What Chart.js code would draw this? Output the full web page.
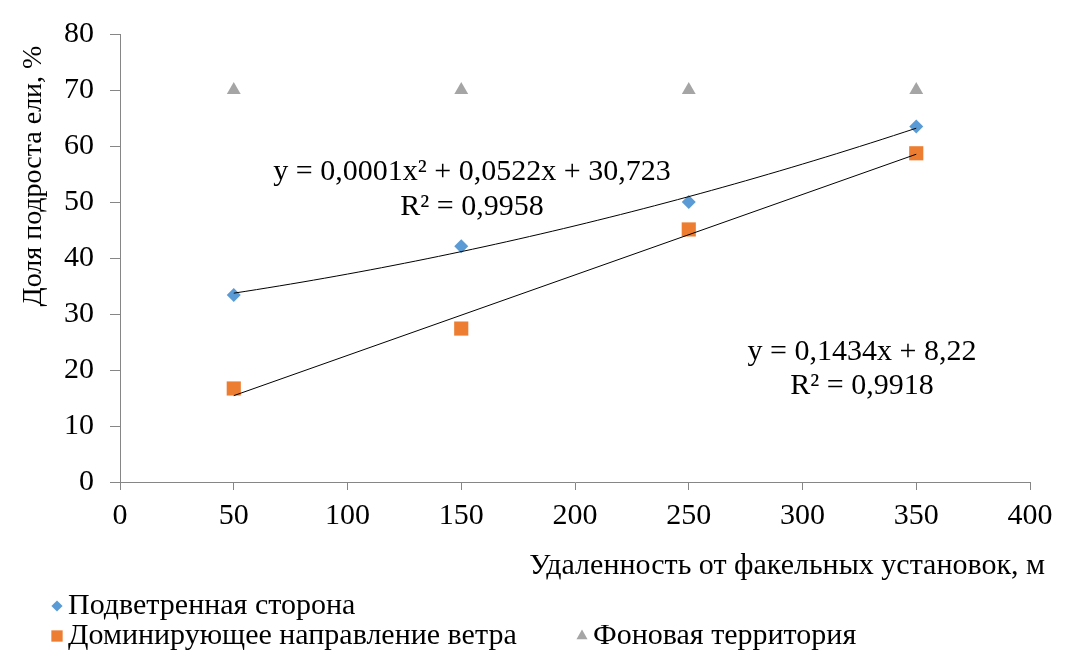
<!DOCTYPE html>
<html>
<head>
<meta charset="utf-8">
<script src="https://cdn.jsdelivr.net/npm/chart.js@4"></script>
<style>
  html, body { margin: 0; padding: 0; background: #fff; }
  #wrap { width: 1068px; height: 665px; position: relative; }
</style>
</head>
<body>
<div id="wrap"><canvas id="chart" width="1068" height="665"></canvas></div>
<script>
// distances, m
const distances = [50, 150, 250, 350];
// share of spruce undergrowth, %
const leeward = [33.4, 42.1, 50.0, 63.5];
const dominantWind = [16.7, 27.4, 45.1, 58.7];
const background = [70, 70, 70, 70];

const seriesNames = ['Подветренная сторона', 'Доминирующее направление ветра', 'Фоновая территория'];
const eqPoly = ['y = 0,0001x² + 0,0522x + 30,723', 'R² = 0,9958'];
const eqLin = ['y = 0,1434x + 8,22', 'R² = 0,9918'];
const xTitle = 'Удаленность от факельных установок, м';
const yTitle = 'Доля подроста ели, %';

const FONT = "'Liberation Serif', 'Times New Roman', serif";
const AXIS_COLOR = '#868686';

// least squares fits, same as the spreadsheet trendlines
function fitLinear(xs, ys) {
    const n = xs.length;
    const mx = xs.reduce((a, b) => a + b, 0) / n;
    const my = ys.reduce((a, b) => a + b, 0) / n;
    let sxy = 0, sxx = 0;
    xs.forEach((x, i) => { sxy += (x - mx) * (ys[i] - my); sxx += (x - mx) * (x - mx); });
    const b = sxy / sxx;
    return x => my + b * (x - mx);
}

function fitQuad(xs, ys) {
    // normal equations for a + b x + c x^2
    const S = k => xs.reduce((s, x) => s + Math.pow(x, k), 0);
    const T = k => xs.reduce((s, x, i) => s + Math.pow(x, k) * ys[i], 0);
    const M = [
        [S(0), S(1), S(2), T(0)],
        [S(1), S(2), S(3), T(1)],
        [S(2), S(3), S(4), T(2)]
    ];
    for (let i = 0; i < 3; i++) {
        for (let j = i + 1; j < 3; j++) {
            const f = M[j][i] / M[i][i];
            for (let k = i; k < 4; k++) M[j][k] -= f * M[i][k];
        }
    }
    const c = [0, 0, 0];
    for (let i = 2; i >= 0; i--) {
        let s = M[i][3];
        for (let k = i + 1; k < 3; k++) s -= M[i][k] * c[k];
        c[i] = s / M[i][i];
    }
    return x => c[0] + c[1] * x + c[2] * x * x;
}

const polyFn = fitQuad(distances, leeward);
const linFn = fitLinear(distances, dominantWind);
const xMin = Math.min(...distances), xMax = Math.max(...distances);
const curvePts = [];
for (let i = 0; i <= 60; i++) {
    const x = xMin + (xMax - xMin) * i / 60;
    curvePts.push({ x: x, y: polyFn(x) });
}
const linePts = [{ x: xMin, y: linFn(xMin) }, { x: xMax, y: linFn(xMax) }];

const toPts = ys => distances.map((x, i) => ({ x: x, y: ys[i] }));

const markers = [
    { color: '#5b9bd5', style: 'rectRot', radius: 7 },
    { color: '#ed7d31', style: 'rect', radius: 10 },
    { color: '#a5a5a5', style: 'triangle', radius: 8 }
];

// texts drawn by hand: axis titles, legend, trendline labels
const textPlugin = {
    id: 'texts',
    afterDraw(chart) {
        const ctx = chart.ctx;
        ctx.save();
        ctx.fillStyle = '#000';
        ctx.textBaseline = 'middle';

        // y title
        ctx.save();
        ctx.font = '28px ' + FONT;
        ctx.translate(34, 176);
        ctx.rotate(-Math.PI / 2);
        ctx.textAlign = 'center';
        ctx.fillText(yTitle, 0, 0);
        ctx.restore();

        // x title
        ctx.font = '30px ' + FONT;
        ctx.textAlign = 'right';
        ctx.fillText(xTitle, 1045, 566);

        // trendline labels
        ctx.textAlign = 'center';
        ctx.fillText(eqPoly[0], 472, 172);
        ctx.fillText(eqPoly[1], 472, 207);
        ctx.fillText(eqLin[0], 862, 352);
        ctx.fillText(eqLin[1], 862, 386);

        // legend
        ctx.textAlign = 'left';
        const spots = [[57, 606], [57, 636], [582, 636]];
        spots.forEach((p, i) => {
            const m = markers[i];
            ctx.fillStyle = m.color;
            ctx.strokeStyle = m.color;
            Chart.helpers.drawPoint(ctx, { pointStyle: m.style, radius: m.radius * 0.8, borderWidth: 0, rotation: 0 }, p[0], p[1]);
            ctx.fillStyle = '#000';
            ctx.fillText(seriesNames[i], p[0] + 11, p[1]);
        });
        ctx.restore();
    }
};

Chart.defaults.font.family = FONT;
Chart.defaults.font.size = 30;
Chart.defaults.color = '#000';

new Chart(document.getElementById('chart'), {
    type: 'scatter',
    data: {
        datasets: [
            {
                label: seriesNames[0], data: toPts(leeward),
                pointStyle: markers[0].style, pointRadius: markers[0].radius,
                backgroundColor: markers[0].color, borderColor: markers[0].color, borderWidth: 0
            },
            {
                label: seriesNames[1], data: toPts(dominantWind),
                pointStyle: markers[1].style, pointRadius: markers[1].radius,
                backgroundColor: markers[1].color, borderColor: markers[1].color, borderWidth: 0
            },
            {
                label: seriesNames[2], data: toPts(background),
                pointStyle: markers[2].style, pointRadius: markers[2].radius,
                backgroundColor: markers[2].color, borderColor: markers[2].color, borderWidth: 0
            },
            {
                label: 'poly', data: curvePts, showLine: true, pointRadius: 0,
                borderColor: '#000', borderWidth: 1, tension: 0, order: -1
            },
            {
                label: 'lin', data: linePts, showLine: true, pointRadius: 0,
                borderColor: '#000', borderWidth: 1, order: -1
            }
        ]
    },
    options: {
        responsive: false,
        animation: false,
        layout: { padding: { left: 0, top: 32, right: 38, bottom: 0 } },
        plugins: { legend: { display: false }, tooltip: { enabled: false } },
        scales: {
            x: {
                type: 'linear', min: 0, max: 400,
                ticks: { stepSize: 50, padding: 8, maxRotation: 0 },
                grid: { drawOnChartArea: false, tickLength: 8, color: AXIS_COLOR },
                border: { color: AXIS_COLOR },
                afterFit: s => { s.height = 183; }
            },
            y: {
                min: 0, max: 80,
                ticks: { stepSize: 10, padding: 16 },
                grid: { drawOnChartArea: false, tickLength: 10, color: AXIS_COLOR },
                border: { color: AXIS_COLOR },
                afterFit: s => { s.width = 120; }
            }
        }
    },
    plugins: [textPlugin]
});
</script>
</body>
</html>
